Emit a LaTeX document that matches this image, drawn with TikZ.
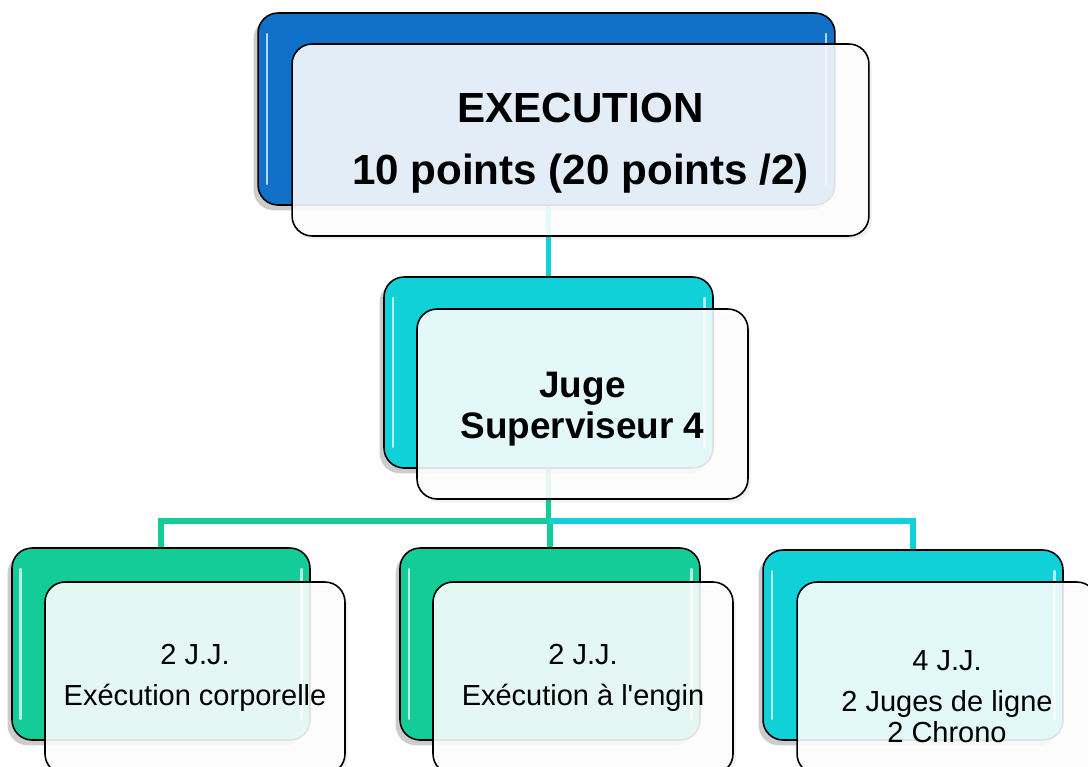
\documentclass[tikz,border=0pt]{standalone}
\usepackage{fontspec}
\setmainfont{Liberation Sans}
\usetikzlibrary{shadows}

\definecolor{ebleu}{RGB}{17,112,200}
\definecolor{ecyan}{RGB}{16,208,216}
\definecolor{evert}{RGB}{20,204,152}

\pgfdeclarelayer{fond}
\pgfsetlayers{fond,main}

\tikzset{
	arriere/.style = {draw = black, line width = 0.9pt, rounded corners = 0.4cm, fill = #1,
		drop shadow = {shadow xshift = -2.5pt, shadow yshift = -3pt, opacity = 0.4},
		path picture = {
			\draw[white, opacity = 0.7, line width = 1.5pt, line cap = round]
				([xshift = 5pt, yshift = -12pt]path picture bounding box.north west) -- ([xshift = 5pt, yshift = 12pt]path picture bounding box.south west)
				([xshift = -5pt, yshift = -12pt]path picture bounding box.north east) -- ([xshift = -5pt, yshift = 12pt]path picture bounding box.south east);
		}},
	devant/.style = {draw = black, line width = 0.9pt, rounded corners = 0.4cm, fill = white,
		fill opacity = 0.88, text opacity = 1, align = center,
		drop shadow = {shadow xshift = 1.5pt, shadow yshift = -2pt, opacity = 0.12}},
	lien/.style = {line width = 3.4pt}
}

\begin{document}
\begin{tikzpicture}[x = 0.02cm, y = -0.02cm]
	\useasboundingbox (0, 0) rectangle (1088, 767);
	% niveau 1
	\node[arriere = ebleu, minimum width = 11.54cm, minimum height = 3.84cm] (hautB) at (546.5, 109) {};
	\node[devant, minimum width = 11.54cm, minimum height = 3.84cm, font = \fontsize{24}{35}\selectfont\bfseries] (haut) at (580.5, 140) {\raisebox{-0.24cm}[0pt][0pt]{\begin{tabular}{@{}c@{}}EXECUTION\\10 points (20 points /2)\end{tabular}}};
	% niveau 2
	\node[arriere = ecyan, minimum width = 6.58cm, minimum height = 3.82cm] (jugeB) at (548.5, 372.5) {};
	\node[devant, minimum width = 6.62cm, minimum height = 3.8cm, font = \fontsize{21}{23}\selectfont\bfseries] (juge) at (582.5, 404) {\raisebox{-0.3cm}[0pt][0pt]{\begin{tabular}{@{}c@{}}Juge\\Superviseur 4\end{tabular}}};
	% niveau 3
	\node[arriere = evert, minimum width = 5.96cm, minimum height = 3.84cm] (corpoB) at (161, 644) {};
	\node[devant, minimum width = 6cm, minimum height = 3.84cm, font = \fontsize{16.5}{16.5}\selectfont] (corpo) at (195, 678) {2 J.J.\\[7pt]Exécution corporelle};
	\node[arriere = evert, minimum width = 6cm, minimum height = 3.84cm] (enginB) at (550, 644) {};
	\node[devant, minimum width = 6cm, minimum height = 3.84cm, font = \fontsize{16.5}{16.5}\selectfont] (engin) at (583, 678) {2 J.J.\\[7pt]Exécution à l\textquotesingle engin};
	\node[arriere = ecyan, minimum width = 6cm, minimum height = 3.8cm] (ligneB) at (913, 645) {};
	\node[devant, minimum width = 6cm, minimum height = 3.84cm, font = \fontsize{16.5}{17.5}\selectfont] (ligne) at (947, 678) {\raisebox{-0.6cm}[0pt][0pt]{\begin{tabular}{@{}c@{}}4 J.J.\\[6pt]2 Juges de ligne\\2 Chrono\end{tabular}}};

	\begin{pgfonlayer}{fond}
		\draw[lien, ecyan] (jugeB.north |- hautB.south) -- (jugeB.north);
		\coordinate (fourche) at (548.5, 521);
		\draw[lien, evert] (jugeB.south) -- (fourche) -| (corpoB.north);
		\draw[lien, evert] (fourche) -| (enginB.north);
		\draw[lien, ecyan] (fourche) -| (ligneB.north);
	\end{pgfonlayer}
\end{tikzpicture}
\end{document}
